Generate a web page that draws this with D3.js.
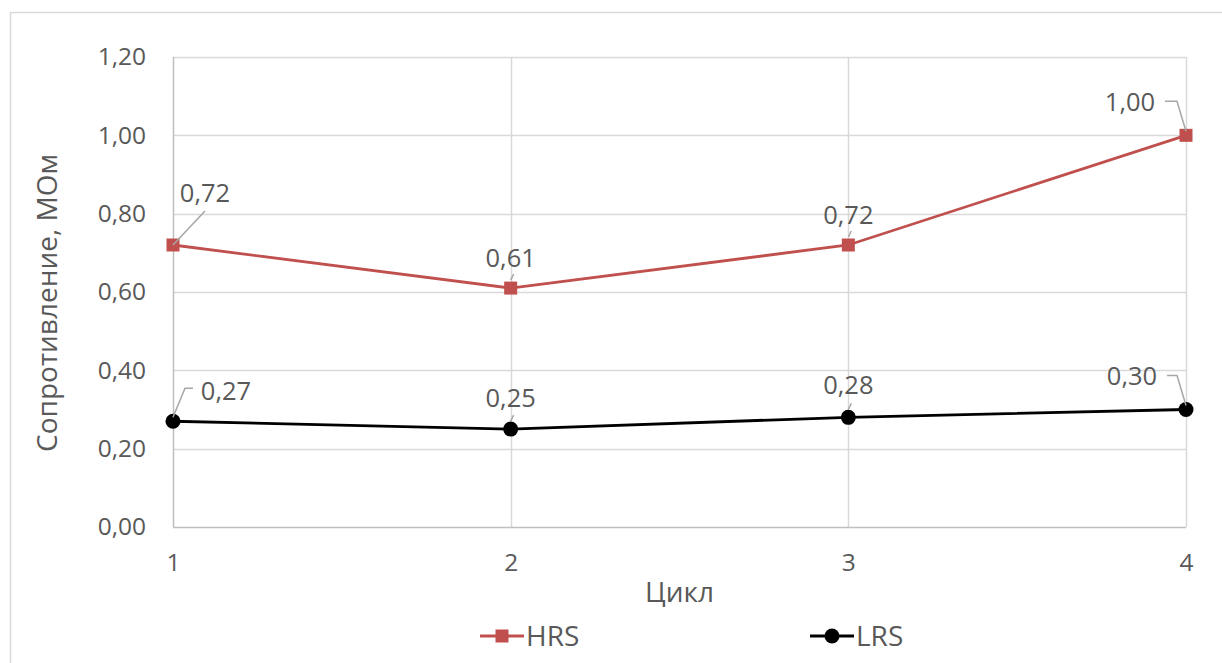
<!DOCTYPE html>
<html>
<head>
<meta charset="utf-8">
<script src="https://cdn.jsdelivr.net/npm/d3@7"></script>
<style>
  html, body { margin: 0; padding: 0; background: #fff; }
  svg { display: block; font-family: "Open Sans", "Noto Sans", sans-serif; }
</style>
</head>
<body>
<svg id="chart" width="1222" height="663"></svg>
<script>
// Resistance per switching cycle
const cycles = [1, 2, 3, 4];
const hrsValues = [0.72, 0.61, 0.72, 1.00];
const lrsValues = [0.27, 0.25, 0.28, 0.30];
const yTicks = [0, 0.2, 0.4, 0.6, 0.8, 1.0, 1.2];
const seriesNames = ["HRS", "LRS"];
const xTitle = "Цикл";
const yTitle = "Сопротивление, МОм";

const svg = d3.select("#chart");
const fmt = v => d3.format(".2f")(v).replace(".", ",");
const textColor = "#595959";

// outer chart frame
svg.append("rect")
  .attr("x", 10.5).attr("y", 12.5)
  .attr("width", 1240).attr("height", 700)
  .attr("fill", "#fff").attr("stroke", "#d9d9d9").attr("stroke-width", 1.5);

const x = d3.scaleLinear().domain([1, 4]).range([173, 1186]);
const y = d3.scaleLinear().domain([0, 1.2]).range([527, 57]);

// horizontal gridlines
svg.append("g").selectAll("line").data(yTicks.slice(1)).join("line")
  .attr("x1", x(1)).attr("x2", x(4))
  .attr("y1", d => Math.round(y(d)) + 0.5).attr("y2", d => Math.round(y(d)) + 0.5)
  .attr("stroke", "#d9d9d9").attr("stroke-width", 1.5);

// vertical gridlines at each cycle
svg.append("g").selectAll("line").data(cycles.slice(1)).join("line")
  .attr("x1", d => Math.round(x(d)) + 0.5).attr("x2", d => Math.round(x(d)) + 0.5)
  .attr("y1", y(1.2)).attr("y2", y(0))
  .attr("stroke", "#d9d9d9").attr("stroke-width", 1.5);

// axis lines
svg.append("line")
  .attr("x1", x(1) + 0.5).attr("x2", x(1) + 0.5).attr("y1", y(1.2)).attr("y2", y(0))
  .attr("stroke", "#bfbfbf").attr("stroke-width", 1.5);
svg.append("line")
  .attr("x1", x(1)).attr("x2", x(4)).attr("y1", y(0) + 0.5).attr("y2", y(0) + 0.5)
  .attr("stroke", "#bfbfbf").attr("stroke-width", 1.5);

// y axis tick labels
const yAxis = d3.axisLeft(y).tickValues(yTicks).tickFormat(fmt).tickSize(0).tickPadding(27);
const gy = svg.append("g").attr("transform", `translate(${x(1)},0)`).call(yAxis);
gy.select(".domain").remove();
gy.selectAll("text").attr("fill", textColor).style("font-size", "24.5px")
  .style("font-family", "'Open Sans', sans-serif");

// x axis tick labels
const xAxis = d3.axisBottom(x).tickValues(cycles).tickFormat(d3.format("d")).tickSize(0).tickPadding(27);
const gx = svg.append("g").attr("transform", `translate(0,${y(0)})`).call(xAxis);
gx.select(".domain").remove();
gx.selectAll("text").attr("fill", textColor).style("font-size", "24.5px")
  .style("font-family", "'Open Sans', sans-serif");

// axis titles
svg.append("text")
  .attr("x", (x(1) + x(4)) / 2).attr("y", 602)
  .attr("text-anchor", "middle").attr("fill", textColor).style("font-size", "28px")
  .text(xTitle);
svg.append("text")
  .attr("transform", `translate(57,${(y(0) + y(1.2)) / 2 + 11}) rotate(-90)`)
  .attr("text-anchor", "middle").attr("fill", textColor).style("font-size", "28px")
  .text(yTitle);

const line = d3.line().x((d, i) => x(cycles[i])).y(d => y(d));

// series lines
svg.append("path").datum(hrsValues).attr("d", line)
  .attr("fill", "none").attr("stroke", "#c0504d").attr("stroke-width", 2.8);
svg.append("path").datum(lrsValues).attr("d", line)
  .attr("fill", "none").attr("stroke", "#000").attr("stroke-width", 2.8);

// data label placement: [dx, dy] of label centre relative to point, and leader style
const hrsLabelPos = [[32, -52, "diag"], [0, -30, "stub"], [0, -30, "stub"], [-56, -33, "left"]];
const lrsLabelPos = [[53, -30, "right"], [0, -31, "stub"], [0, -32, "stub"], [-54, -33, "left"]];

function leader(g, px, py, pos) {
  const [dx, dy, kind] = pos;
  let pts;
  if (kind === "diag") pts = [[px, py], [px + 32, py - 34]];
  else if (kind === "right") pts = [[px, py - 4], [px + 12, py - 33], [px + 20, py - 33]];
  else if (kind === "left") pts = [[px + dx + 35, py + dy - 1], [px - 9, py + dy - 1], [px, py - 4]];
  else pts = [[px, py - 8], [px + 3, py - 14]];
  g.append("polyline").attr("points", pts.map(p => p.join(",")).join(" "))
    .attr("fill", "none").attr("stroke", "#a6a6a6").attr("stroke-width", 1.5);
}

function labels(values, pos) {
  const g = svg.append("g");
  values.forEach((v, i) => {
    const px = x(cycles[i]), py = y(v);
    leader(g, px, py, pos[i]);
    g.append("text")
      .attr("x", px + pos[i][0]).attr("y", py + pos[i][1])
      .attr("dy", "0.35em").attr("text-anchor", "middle")
      .attr("fill", textColor).style("font-size", "25.5px")
      .text(fmt(v));
  });
}

// markers
svg.append("g").selectAll("rect").data(hrsValues).join("rect")
  .attr("x", (d, i) => x(cycles[i]) - 6.5).attr("y", d => y(d) - 6.5)
  .attr("width", 13).attr("height", 13).attr("fill", "#c0504d");
svg.append("g").selectAll("circle").data(lrsValues).join("circle")
  .attr("cx", (d, i) => x(cycles[i])).attr("cy", d => y(d)).attr("r", 7.5)
  .attr("fill", "#000");

labels(hrsValues, hrsLabelPos);
labels(lrsValues, lrsLabelPos);

// legend
const legend = svg.append("g");
const legendItems = [
  { name: seriesNames[0], color: "#c0504d", shape: "square", cx: 502 },
  { name: seriesNames[1], color: "#000", shape: "circle", cx: 832 }
];
legendItems.forEach(it => {
  const ly = 636;
  legend.append("line").attr("x1", it.cx - 22).attr("x2", it.cx + 22)
    .attr("y1", ly).attr("y2", ly).attr("stroke", it.color).attr("stroke-width", 2.8);
  if (it.shape === "square") {
    legend.append("rect").attr("x", it.cx - 6.5).attr("y", ly - 6.5)
      .attr("width", 13).attr("height", 13).attr("fill", it.color);
  } else {
    legend.append("circle").attr("cx", it.cx).attr("cy", ly).attr("r", 7.5).attr("fill", it.color);
  }
  legend.append("text").attr("x", it.cx + 24).attr("y", ly).attr("dy", "0.35em")
    .attr("fill", textColor).style("font-size", "28px").text(it.name);
});
</script>
</body>
</html>
